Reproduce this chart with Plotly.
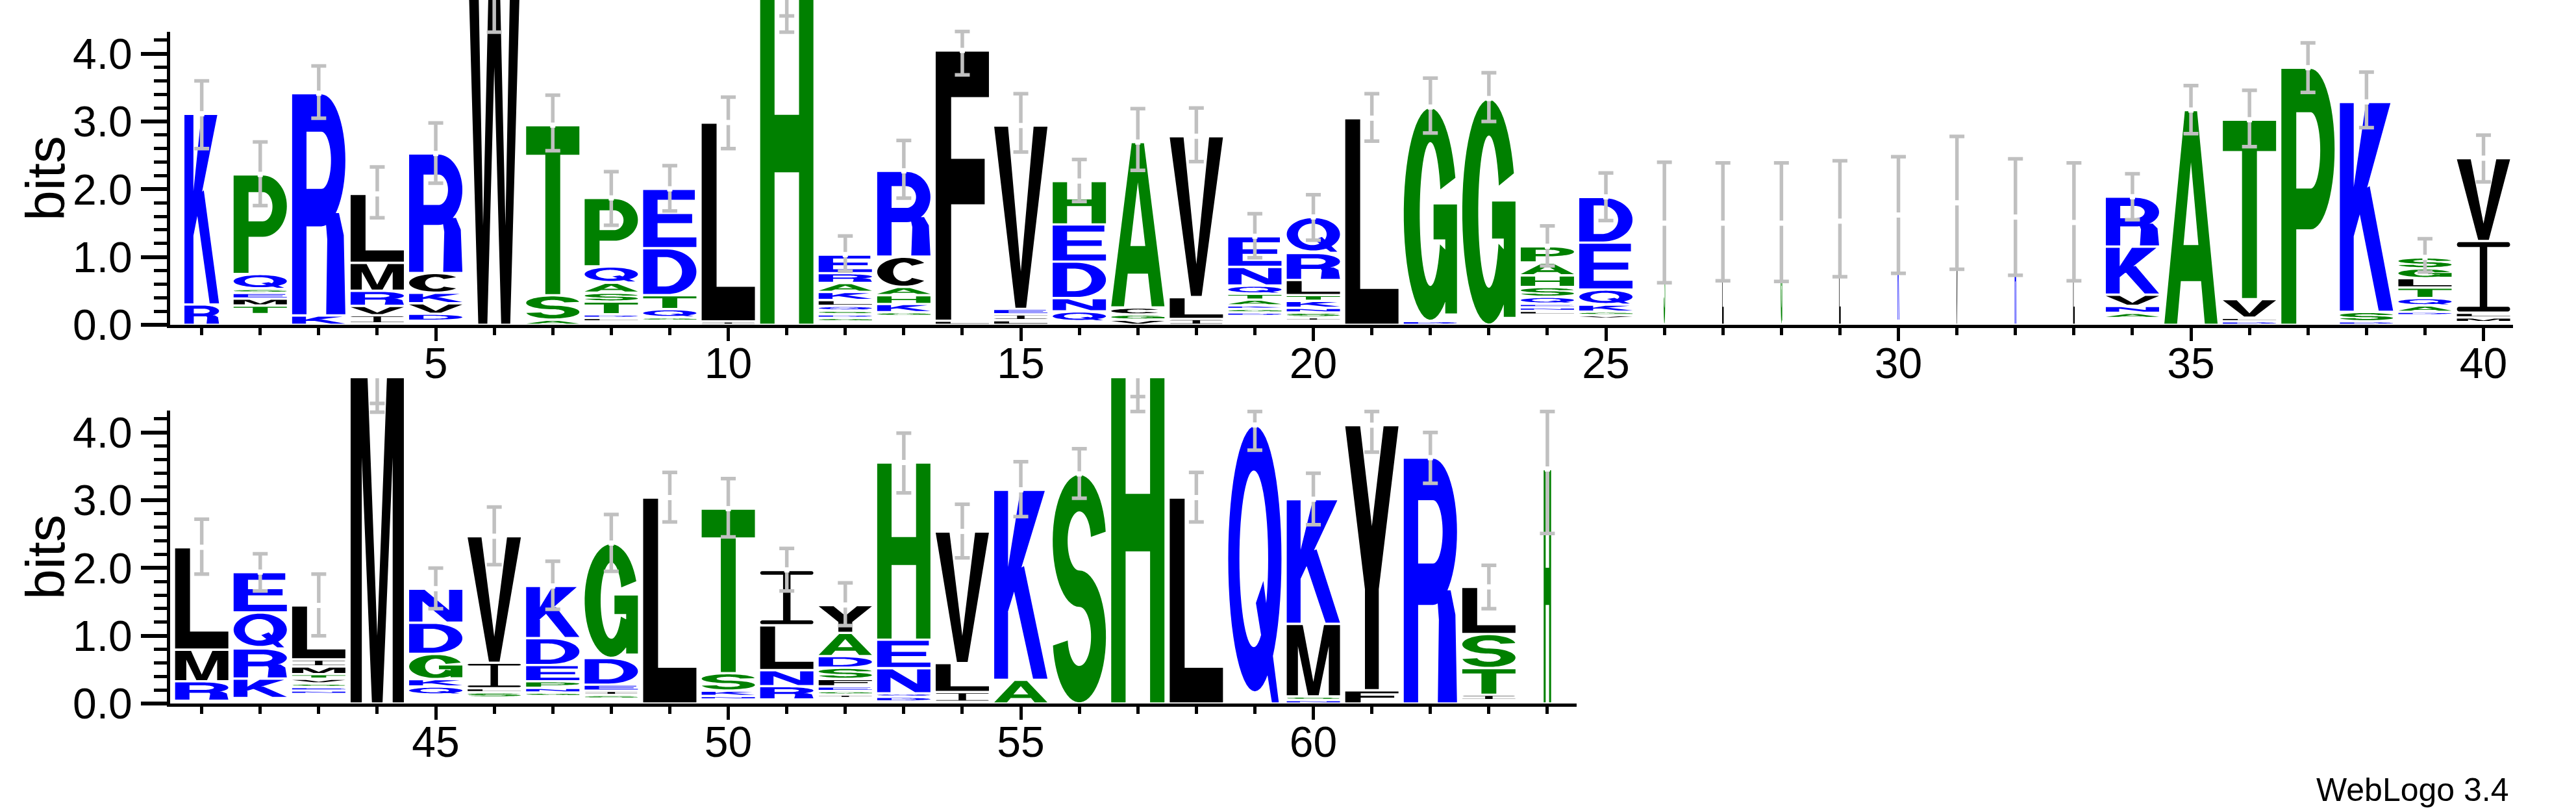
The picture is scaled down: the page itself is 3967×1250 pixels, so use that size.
import numpy as np
import plotly.graph_objects as go

# ---------------------------------------------------------------- data
positions = list(range(1, 65))
top_positions = positions[:40]
bottom_positions = positions[40:]

xtick_top = [5, 10, 15, 20, 25, 30, 35, 40]
xtick_bottom = [45, 50, 55, 60]
ytick_vals = [0, 1, 2, 3, 4]
ytick_text = ["0.0", "1.0", "2.0", "3.0", "4.0"]
ytick_minor = [0.2, 0.4, 0.6, 0.8, 1.2, 1.4, 1.6, 1.8, 2.2, 2.4, 2.6, 2.8,
               3.2, 3.4, 3.6, 3.8, 4.2]

# visible width of each column (columns that are mostly gaps are narrow)
col_width = [0.65, 1, 1, 1, 1, 1, 1, 1, 1, 1, 1, 1, 1, 1, 1, 1, 1, 1, 1, 1,
             1, 1, 1, 1, 1, 0.03, 0.03, 0.03, 0.03, 0.03, 0.03, 0.03, 0.03, 1, 1, 1, 1, 1, 1, 1,
             1, 1, 1, 1, 1, 1, 1, 1, 1, 1, 1, 1, 1, 1, 1, 1, 1, 1, 1, 1,
             1, 1, 1, 0.14]

# letter stacks, bottom to top, heights in bits ("" = letters too thin to see)
stacks = [
    [("R", 0.30), ("K", 2.815)],
    [("", 0.157), ("T", 0.127), ("M", 0.103), ("E", 0.083), ("S", 0.06), ("Q", 0.22), ("P", 1.47)],
    [("K", 0.138), ("R", 3.28)],
    [("", 0.02), ("I", 0.121), ("V", 0.138), ("R", 0.223), ("M", 0.412), ("L", 1.018)],
    [("", 0.06), ("D", 0.103), ("V", 0.155), ("K", 0.155), ("C", 0.292), ("R", 1.764)],
    [("W", 5.6)],
    [("A", 0.076), ("S", 0.36), ("T", 2.511)],
    [("", 0.05), ("L", 0.052), ("D", 0.052), ("T", 0.189), ("S", 0.131), ("A", 0.148), ("Q", 0.24), ("P", 1.011)],
    [("", 0.06), ("G", 0.05), ("Q", 0.121), ("T", 0.206), ("D", 0.693), ("E", 0.877)],
    [("I", 0.05), ("L", 2.936)],
    [("H", 5.35)],
    [("", 0.05), ("G", 0.052), ("D", 0.052), ("S", 0.056), ("Q", 0.069), ("L", 0.086), ("K", 0.121),
     ("A", 0.131), ("R", 0.145), ("E", 0.275)],
    [("", 0.13), ("G", 0.056), ("K", 0.121), ("H", 0.131), ("A", 0.121), ("C", 0.446), ("R", 1.268)],
    [("L", 0.06), ("F", 3.99)],
    [("L", 0.069), ("I", 0.086), ("E", 0.08), ("V", 2.706)],
    [("", 0.05), ("Q", 0.148), ("N", 0.196), ("D", 0.538), ("E", 0.549), ("H", 0.641)],
    [("V", 0.076), ("G", 0.076), ("C", 0.103), ("A", 2.442)],
    [("I", 0.086), ("L", 0.323), ("V", 2.374)],
    [("", 0.13), ("D", 0.052), ("G", 0.052), ("K", 0.052), ("A", 0.086), ("T", 0.086), ("Q", 0.121),
     ("N", 0.275), ("E", 0.453)],
    [("", 0.06), ("I", 0.052), ("S", 0.069), ("N", 0.069), ("K", 0.103), ("T", 0.086), ("L", 0.223),
     ("R", 0.398), ("Q", 0.532)],
    [("L", 3.05)],
    [("D", 0.056), ("G", 3.158)],
    [("G", 3.34)],
    [("", 0.15), ("L", 0.056), ("N", 0.052), ("E", 0.052), ("Q", 0.103), ("S", 0.145), ("H", 0.172),
     ("A", 0.189), ("P", 0.24)],
    [("", 0.09), ("V", 0.052), ("G", 0.052), ("K", 0.103), ("Q", 0.223), ("E", 0.693), ("D", 0.675)],
    [("S", 1.5)],
    [("L", 1.5)],
    [("G", 1.5)],
    [("L", 1.53)],
    [("", 0.06), ("K", 1.56)],
    [("V", 1.8)],
    [("R", 1.59)],
    [("L", 1.51)],
    [("", 0.1), ("A", 0.076), ("N", 0.103), ("V", 0.165), ("K", 0.71), ("R", 0.737)],
    [("A", 3.17)],
    [("D", 0.052), ("L", 0.052), ("V", 0.275), ("T", 2.648)],
    [("P", 3.795)],
    [("D", 0.052), ("S", 0.138), ("K", 3.1)],
    [("", 0.14), ("D", 0.052), ("A", 0.093), ("Q", 0.11), ("T", 0.155), ("L", 0.138), ("G", 0.145), ("S", 0.162)],
    [("", 0.04), ("M", 0.069), ("L", 0.069), ("I", 1.059), ("V", 1.223)],
    [("", 0.04), ("R", 0.288), ("M", 0.466), ("L", 1.512)],
    [("", 0.08), ("K", 0.288), ("R", 0.445), ("Q", 0.531), ("E", 0.596)],
    [("", 0.14), ("N", 0.052), ("E", 0.052), ("S", 0.052), ("V", 0.069), ("T", 0.069), ("M", 0.114),
     ("I", 0.103), ("L", 0.797)],
    [("M", 5.2)],
    [("", 0.13), ("Q", 0.12), ("K", 0.11), ("G", 0.373), ("D", 0.459), ("N", 0.503)],
    [("", 0.09), ("S", 0.076), ("L", 0.059), ("I", 0.377), ("V", 1.867)],
    [("", 0.11), ("G", 0.052), ("N", 0.069), ("P", 0.097), ("E", 0.24), ("D", 0.397), ("K", 0.77)],
    [("", 0.07), ("S", 0.056), ("I", 0.062), ("E", 0.09), ("D", 0.394), ("G", 1.696)],
    [("L", 3.04)],
    [("", 0.06), ("N", 0.052), ("K", 0.079), ("S", 0.257), ("T", 2.428)],
    [("", 0.06), ("R", 0.196), ("N", 0.237), ("L", 0.661), ("I", 0.818)],
    [("", 0.08), ("I", 0.052), ("G", 0.052), ("E", 0.069), ("F", 0.11), ("S", 0.165), ("D", 0.172),
     ("A", 0.343), ("Y", 0.411)],
    [("", 0.03), ("D", 0.069), ("Q", 0.052), ("N", 0.37), ("E", 0.421), ("H", 2.616)],
    [("", 0.025), ("I", 0.144), ("L", 0.428), ("V", 1.943)],
    [("A", 0.35), ("K", 2.804)],
    [("S", 3.39)],
    [("H", 5.34)],
    [("L", 3.04)],
    [("Q", 4.11)],
    [("N", 0.052), ("S", 0.052), ("M", 1.071), ("K", 1.84)],
    [("F", 0.196), ("Y", 3.912)],
    [("R", 3.63)],
    [("", 0.05), ("I", 0.079), ("T", 0.394), ("S", 0.503), ("L", 0.695)],
    [("H", 3.46)],
]

# error bar end caps (bits)
err_low = [2.60, 1.76, 3.05, 1.58, 2.09, 5.10, 2.57, 1.47, 1.68, 2.60,
           4.56, 0.79, 1.87, 3.69, 2.55, 1.82, 2.28, 2.41, 0.99, 1.25,
           2.71, 2.83, 3.00, 0.87, 1.54, 0.62, 0.65, 0.64, 0.71, 0.76,
           0.82, 0.73, 0.65, 1.55, 2.82, 2.63, 3.43, 2.91, 0.78, 2.11,
           1.91, 1.66, 1.00, 4.43, 1.40, 2.05, 1.39, 1.95, 2.68, 2.46,
           1.66, 1.15, 3.11, 2.15, 2.76, 3.03, 4.53, 2.68, 3.74, 2.64,
           3.71, 3.25, 1.40, 2.51]
err_high = [3.60, 2.70, 3.82, 2.33, 2.98, 4.32, 3.39, 2.26, 2.35, 3.36,
            4.32, 1.31, 2.72, 4.33, 3.41, 2.44, 3.19, 3.20, 1.64, 1.92,
            3.41, 3.64, 3.72, 1.46, 2.24, 2.40, 2.39, 2.39, 2.42, 2.48,
            2.78, 2.45, 2.39, 2.23, 3.53, 3.46, 4.16, 3.73, 1.27, 2.80,
            2.72, 2.21, 1.91, 4.30, 2.00, 2.90, 2.10, 2.79, 3.41, 3.32,
            2.29, 1.78, 3.99, 2.94, 3.57, 3.76, 4.31, 3.41, 4.31, 3.40,
            4.31, 4.00, 2.04, 4.31]

letter_colors = {
    "K": "#0000ff", "R": "#0000ff", "D": "#0000ff", "E": "#0000ff", "N": "#0000ff", "Q": "#0000ff",
    "S": "#008000", "G": "#008000", "H": "#008000", "T": "#008000", "A": "#008000", "P": "#008000",
    "Y": "#000000", "V": "#000000", "M": "#000000", "C": "#000000", "L": "#000000", "F": "#000000",
    "I": "#000000", "W": "#000000",
}


# ---------------------------------------------------------------- glyphs (unit box, y up)
def arc(cx, cy, rx, ry, a0, a1, step=6.0):
    n = max(3, int(abs(a1 - a0) / step) + 1)
    t = np.radians(np.linspace(a0, a1, n))
    return list(zip(cx + rx * np.cos(t), cy + ry * np.sin(t)))


def area(p):
    x = np.array([q[0] for q in p])
    y = np.array([q[1] for q in p])
    return 0.5 * np.sum(x * np.roll(y, -1) - np.roll(x, -1) * y)


def solid(p):
    return p if area(p) > 0 else p[::-1]


def hole(p):
    return p if area(p) < 0 else p[::-1]


def rect(x0, y0, x1, y1):
    return solid([(x0, y0), (x1, y0), (x1, y1), (x0, y1)])


def band(cx, cy, rx, ry, tx, ty, a0, a1):
    return solid(arc(cx, cy, rx + tx, ry + ty, a0, a1) + arc(cx, cy, rx - tx, ry - ty, a1, a0))


def pill(y0, y1):
    r, yc = (y1 - y0) / 2, (y0 + y1) / 2
    return solid(arc(0.04, yc, 0.04, r, 90, 270, 30) + arc(0.96, yc, 0.04, r, -90, 90, 30))


GLYPHS = {
    "A": [solid([(0, 0), (0.24, 0), (0.31, 0.2), (0.69, 0.2), (0.76, 0), (1, 0), (0.615, 1), (0.385, 1)]),
          hole([(0.36, 0.37), (0.64, 0.37), (0.5, 0.76)])],
    "C": [band(0.5, 0.5, 0.35, 0.42, 0.15, 0.08, 40, 320)],
    "D": [solid([(0, 0), (0, 1), (0.45, 1)] + arc(0.45, 0.5, 0.55, 0.5, 90, -90)),
          hole([(0.27, 0.17), (0.27, 0.83), (0.42, 0.83)] + arc(0.42, 0.5, 0.31, 0.33, 90, -90))],
    "E": [solid([(0, 0), (1, 0), (1, 0.17), (0.27, 0.17), (0.27, 0.42), (0.92, 0.42), (0.92, 0.58),
                 (0.27, 0.58), (0.27, 0.83), (0.97, 0.83), (0.97, 1), (0, 1)])],
    "F": [solid([(0, 0), (0.29, 0), (0.29, 0.43), (0.92, 0.43), (0.92, 0.6), (0.29, 0.6), (0.29, 0.83),
                 (1, 0.83), (1, 1), (0, 1)])],
    "G": [band(0.5, 0.5, 0.35, 0.42, 0.15, 0.08, 20, 335), rect(0.78, 0.03, 1.0, 0.545),
          rect(0.56, 0.38, 1.0, 0.545)],
    "H": [rect(0, 0, 0.27, 1), rect(0.73, 0, 1, 1), rect(0.25, 0.42, 0.75, 0.58)],
    "I": [pill(0.93, 1.0), pill(0.0, 0.07), rect(0.43, 0.03, 0.57, 0.97)],
    "K": [rect(0, 0, 0.26, 1), solid([(0.24, 0.34), (0.95, 1), (0.49, 1), (0.24, 0.56)]),
          solid([(0.73, 0), (1, 0), (0.56, 0.6), (0.3, 0.56)])],
    "L": [solid([(0, 0), (1, 0), (1, 0.17), (0.28, 0.17), (0.28, 1), (0, 1)])],
    "M": [solid([(0, 0), (0.21, 0), (0.21, 0.7), (0.4, 0), (0.6, 0), (0.79, 0.7), (0.79, 0), (1, 0),
                 (1, 1), (0.7, 1), (0.5, 0.19), (0.3, 1), (0, 1)])],
    "N": [solid([(0, 0), (0.25, 0), (0.25, 0.64), (0.71, 0), (1, 0), (1, 1), (0.75, 1), (0.75, 0.36),
                 (0.29, 1), (0, 1)])],
    "P": [solid([(0, 0), (0.28, 0), (0.28, 0.37), (0.55, 0.37)] + arc(0.55, 0.685, 0.45, 0.315, -90, 90)
                + [(0, 1)]),
          hole([(0.28, 0.53), (0.55, 0.53)] + arc(0.55, 0.68, 0.18, 0.15, -90, 90) + [(0.28, 0.83)])],
    "Q": [solid(arc(0.5, 0.52, 0.5, 0.48, 0, 360)), hole(arc(0.48, 0.52, 0.27, 0.32, 0, 360)),
          solid([(0.52, 0.36), (0.66, 0.44), (0.95, 0), (0.82, 0)])],
    "R": [rect(0, 0, 0.27, 1),
          solid([(0.27, 0.4), (0.55, 0.4)] + arc(0.55, 0.7, 0.45, 0.3, -90, 90) + [(0.27, 1)]),
          hole([(0.27, 0.57), (0.55, 0.57)] + arc(0.55, 0.7, 0.18, 0.13, -90, 90) + [(0.27, 0.83)]),
          solid([(0.64, 0), (1, 0), (0.97, 0.36), (0.88, 0.46), (0.62, 0.46), (0.66, 0.34)])],
    "S": [band(0.5, 0.71, 0.36, 0.21, 0.14, 0.08, 8, 270),
          band(0.5, 0.29, 0.36, 0.21, 0.14, 0.08, -172, 90)],
    "T": [rect(0, 0.83, 1, 1), rect(0.36, 0, 0.64, 0.85)],
    "V": [solid([(0, 1), (0.26, 1), (0.5, 0.2), (0.74, 1), (1, 1), (0.6, 0), (0.4, 0)])],
    "W": [solid([(0, 1), (0.19, 1), (0.29, 0.26), (0.41, 1), (0.59, 1), (0.71, 0.26), (0.81, 1), (1, 1),
                 (0.8, 0), (0.63, 0), (0.5, 0.68), (0.37, 0), (0.2, 0)])],
    "Y": [solid([(0, 1), (0.28, 1), (0.5, 0.62), (0.72, 1), (1, 1), (0.63, 0.38), (0.63, 0), (0.37, 0),
                 (0.37, 0.38)])],
}

GAP = 0.035        # white space kept between stacked letters (bits)
LETTER_W = 0.91    # letter width as a fraction of one column


def glyph_path(letter, xc, w, y0, y1):
    out = []
    for contour in GLYPHS[letter]:
        pts = [f"{xc + (u - 0.5) * w:.4f},{y0 + v * (y1 - y0):.4f}" for u, v in contour]
        out.append("M" + "L".join(pts) + "Z")
    return "".join(out)


def row_shapes(pos_list, xref, yref):
    paths = {}
    for p in pos_list:
        i = p - 1
        y = 0.0
        for letter, h in stacks[i]:
            if letter and h - GAP > 0.004:
                path = glyph_path(letter, p, LETTER_W * col_width[i], y + GAP / 2, y + h - GAP / 2)
                paths.setdefault(letter_colors[letter], []).append(path)
            y += h
    return [dict(type="path", path="".join(v), xref=xref, yref=yref, fillcolor=c,
                 line=dict(width=0), layer="below", fillrule="nonzero") for c, v in paths.items()]


def row_errorbars(pos_list, xaxis, yaxis):
    idx = [p - 1 for p in pos_list]
    top = [sum(h for _, h in stacks[i]) for i in idx]
    mid = [(err_low[i] + err_high[i]) / 2 for i in idx]
    half = [abs(err_high[i] - err_low[i]) / 2 for i in idx]
    # part of the bar above both caps when the stack runs past the axis maximum
    ext_y = [t if t > max(err_low[i], err_high[i]) else None for t, i in zip(top, idx)]
    ext_minus = [t - max(err_low[i], err_high[i]) if t > max(err_low[i], err_high[i]) else 0
                 for t, i in zip(top, idx)]
    grey = "#c0c0c0"
    return [
        go.Scatter(x=pos_list, y=mid, mode="markers", xaxis=xaxis, yaxis=yaxis,
                   marker=dict(size=1, color="rgba(0,0,0,0)"), showlegend=False, hoverinfo="skip",
                   error_y=dict(type="data", array=half, symmetric=True, color=grey,
                                thickness=5.5, width=11.5)),
        go.Scatter(x=pos_list, y=ext_y, mode="markers", xaxis=xaxis, yaxis=yaxis,
                   marker=dict(size=1, color="rgba(0,0,0,0)"), showlegend=False, hoverinfo="skip",
                   error_y=dict(type="data", symmetric=False, array=[0] * len(idx), arrayminus=ext_minus,
                                color=grey, thickness=5.5, width=0)),
        go.Scatter(x=pos_list, y=top, mode="markers", xaxis=xaxis, yaxis=yaxis,
                   marker=dict(symbol="square", size=8, color="white"), showlegend=False,
                   hoverinfo="skip"),
    ]


# ---------------------------------------------------------------- figure
W, H = 3967, 1250
BIT = 104.3          # px per bit
COL = 90.1           # px per position
X0 = 262             # px of the y axis
BASE_TOP, BASE_BOT = 500, 1083
font = "Liberation Sans, Arial, sans-serif"

fig = go.Figure()
# empty traces so that the visible axis pairs become real subplots
fig.add_trace(go.Scatter(x=[], y=[], xaxis="x", yaxis="y", showlegend=False, hoverinfo="skip"))
fig.add_trace(go.Scatter(x=[], y=[], xaxis="x2", yaxis="y2", showlegend=False, hoverinfo="skip"))
for tr in row_errorbars(top_positions, "x", "y3") + row_errorbars(bottom_positions, "x2", "y4"):
    fig.add_trace(tr)

shapes = row_shapes(top_positions, "x", "y3") + row_shapes(bottom_positions, "x2", "y4")

xcommon = dict(showgrid=False, zeroline=False, showline=True, linewidth=5, linecolor="black",
               ticks="outside", ticklen=20, tickwidth=5, tickcolor="black", automargin=False,
               tickfont=dict(family=font, size=66, color="black"), ticklabelstandoff=-22)
ycommon = dict(showgrid=False, zeroline=False, showline=True, linewidth=5, linecolor="black",
               ticks="outside", ticklen=40, tickwidth=6, tickcolor="black", range=[0, 4.32],
               tickvals=ytick_vals, ticktext=ytick_text, automargin=False,
               minor=dict(tickvals=ytick_minor, ticks="outside", ticklen=20, tickwidth=4.5, tickcolor="black"),
               tickfont=dict(family=font, size=66, color="black"), ticklabelstandoff=0)

fig.update_layout(
    width=W, height=H, autosize=False,
    margin=dict(l=0, r=0, t=0, b=0, pad=0, autoexpand=False),
    paper_bgcolor="white", plot_bgcolor="rgba(0,0,0,0)",
    showlegend=False, hovermode=False,
    shapes=shapes,
    xaxis=dict(xcommon, range=[0.46, 40.5], domain=[X0 / W, (X0 + 40.04 * COL) / W], anchor="y",
               tickvals=xtick_top, ticktext=[str(v) for v in xtick_top],
               minor=dict(tickvals=top_positions, ticks="outside", ticklen=11, tickwidth=4.5, tickcolor="black")),
    xaxis2=dict(xcommon, range=[40.46, 64.5], domain=[X0 / W, (X0 + 24.04 * COL) / W], anchor="y2",
                tickvals=xtick_bottom, ticktext=[str(v) for v in xtick_bottom],
                minor=dict(tickvals=bottom_positions, ticks="outside", ticklen=11, tickwidth=4.5,
                           tickcolor="black")),
    yaxis=dict(ycommon, anchor="x",
               domain=[(H - BASE_TOP) / H, (H - BASE_TOP + 4.32 * BIT) / H]),
    yaxis2=dict(ycommon, anchor="x2",
                domain=[(H - BASE_BOT) / H, (H - BASE_BOT + 4.32 * BIT) / H]),
    yaxis3=dict(visible=False, anchor="x", range=[0, BASE_TOP / BIT], automargin=False,
                domain=[(H - BASE_TOP) / H, 1.0]),
    yaxis4=dict(visible=False, anchor="x2", range=[0, 4.8], automargin=False,
                domain=[(H - BASE_BOT) / H, (H - BASE_BOT + 4.8 * BIT) / H]),
    annotations=[
        dict(text="bits", xref="paper", yref="paper", x=70 / W, y=(H - 275) / H, showarrow=False,
             textangle=-90, xanchor="center", yanchor="middle", font=dict(family=font, size=84, color="black")),
        dict(text="bits", xref="paper", yref="paper", x=70 / W, y=(H - 858) / H, showarrow=False,
             textangle=-90, xanchor="center", yanchor="middle", font=dict(family=font, size=84, color="black")),
        dict(text="WebLogo 3.4", xref="paper", yref="paper", x=3866 / W, y=(H - 1216) / H, showarrow=False,
             xanchor="right", yanchor="middle", font=dict(family=font, size=50, color="black")),
    ],
)

fig.write_html("out.html", config={"displayModeBar": False},
               post_script="document.body.style.margin='0';document.body.style.overflow='hidden';")
